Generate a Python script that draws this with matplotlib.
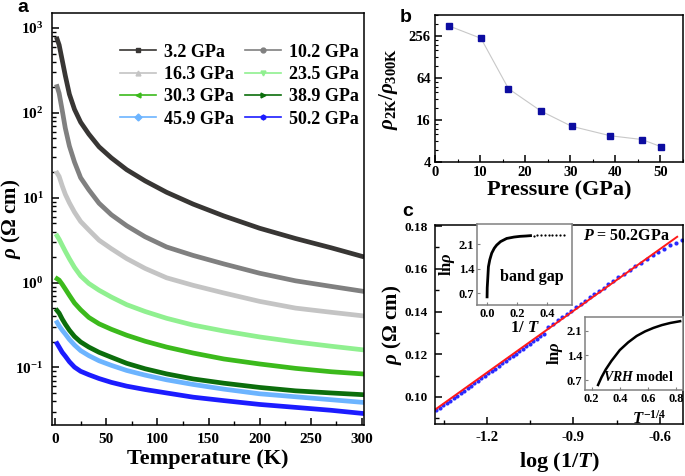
import matplotlib
matplotlib.use('Agg')
import matplotlib.pyplot as plt
from matplotlib import ticker
from matplotlib.lines import Line2D

plt.rcParams['font.family']='Liberation Serif'
plt.rcParams['font.weight']='bold'
plt.rcParams['axes.labelweight']='bold'
plt.rcParams['mathtext.fontset']='custom'
plt.rcParams['mathtext.rm']='Liberation Serif:bold'
plt.rcParams['mathtext.it']='Liberation Serif:italic:bold'
plt.rcParams['mathtext.bf']='Liberation Serif:bold'
plt.rcParams['axes.unicode_minus']=False
plt.rcParams['xtick.direction']='in'
plt.rcParams['ytick.direction']='in'
plt.rcParams['axes.linewidth']=1.1

# a: resistivity vs temperature
temp=[2,4,7,10,14,19,25,33,43,55,70,88,109,135,165,200,235,270,300]
labels=['3.2 GPa','10.2 GPa','16.3 GPa','23.5 GPa','30.3 GPa','38.9 GPa','45.9 GPa','50.2 GPa']
rho_3p2=[741,631,417,275,166,110,77.6,56.2,39.8,29.5,21.4,15.8,11.6,8.41,6.10,4.37,3.31,2.57,2.04]
rho_10p2=[204,170,107,66.1,40.7,26.3,17.2,12.4,8.61,6.31,4.68,3.47,2.63,2.09,1.66,1.29,1.05,0.902,0.794]
rho_16p3=[19.5,17.8,13.8,11.0,8.71,6.76,5.25,4.17,3.16,2.51,1.92,1.47,1.14,0.929,0.755,0.601,0.501,0.447,0.407]
rho_23p5=[3.55,3.24,2.75,2.34,1.91,1.51,1.20,0.977,0.813,0.676,0.550,0.457,0.380,0.316,0.269,0.229,0.200,0.178,0.162]
rho_30p3=[1.11,1.07,0.955,0.841,0.708,0.575,0.479,0.389,0.327,0.282,0.240,0.204,0.174,0.148,0.126,0.110,0.0977,0.0891,0.0841]
rho_38p9=[0.468,0.437,0.372,0.324,0.275,0.232,0.200,0.174,0.151,0.132,0.112,0.0966,0.0841,0.0733,0.0653,0.0582,0.0531,0.0501,0.0479]
rho_45p9=[0.339,0.309,0.275,0.248,0.214,0.184,0.158,0.138,0.120,0.106,0.0923,0.0813,0.0716,0.0631,0.0556,0.0490,0.0452,0.0417,0.0389]
rho_50p2=[0.191,0.174,0.151,0.136,0.117,0.101,0.0902,0.0822,0.0741,0.0668,0.0603,0.0550,0.0501,0.0447,0.0407,0.0367,0.0339,0.0313,0.0288]
curves=[rho_3p2,rho_10p2,rho_16p3,rho_23p5,rho_30p3,rho_38p9,rho_45p9,rho_50p2]
colors=['#383634','#808080','#c4c4c4','#90f090','#3cba1c','#0c6e0c','#6cb4ff','#1c1cff']
markers=['s','o','^','v','<','>','D','h']

# b: rho(2K)/rho(300K) vs pressure
pressure=[3.2,10.2,16.3,23.5,30.3,38.9,45.9,50.2]
ratio=[355,237,45,21.5,13,9.5,8.4,6.6]

# c: rho vs log(1/T) at 50.2 GPa
logT_inv=[-1.375,-1.363,-1.351,-1.339,-1.327,-1.315,-1.303,-1.291,-1.279,-1.267,-1.255,-1.243,
          -1.231,-1.219,-1.207,-1.195,-1.183,-1.171,-1.159,-1.147,-1.135,-1.123,-1.111,-1.099,
          -1.087,-1.075,-1.063,-1.051,-1.039,-1.027,-1.015,-1.003,
          -0.987,-0.971,-0.955,-0.939,-0.923,-0.907,-0.891,-0.875,-0.859,-0.843,-0.827,-0.811,
          -0.795,-0.779,-0.763,
          -0.745,-0.725,-0.705,-0.685,-0.665,-0.645,-0.625,-0.605,-0.585,-0.565,-0.545,-0.525]
rho_c=[0.0937,0.0948,0.0960,0.0972,0.0983,0.0995,0.1006,0.1018,0.1029,0.1041,0.1053,0.1064,
       0.1076,0.1087,0.1099,0.1110,0.1122,0.1133,0.1145,0.1157,0.1168,0.1180,0.1191,0.1203,
       0.1214,0.1226,0.1238,0.1249,0.1261,0.1272,0.1284,0.1295,
       0.1327,0.1342,0.1358,0.1373,0.1389,0.1404,0.1419,0.1435,0.1450,0.1466,0.1481,0.1497,
       0.1512,0.1527,0.1543,
       0.1560,0.1577,0.1595,0.1612,0.1629,0.1647,0.1664,0.1680,0.1695,0.1710,0.1723,0.1734]
fit_x=[-1.38,-0.54]
fit_y=[0.094,0.175]

# c insets
inv_T=[0.0,0.001,0.004,0.009,0.018,0.031,0.048,0.064,0.09,0.131,0.18,0.22,0.26,0.29]
ln_rho_gap=[0.59,0.85,1.07,1.45,1.65,1.84,1.98,2.07,2.17,2.26,2.30,2.32,2.33,2.34]
inv_T_tail=[0.31,0.335,0.36,0.385,0.41,0.435,0.46,0.485,0.51]
ln_rho_tail=[2.34,2.345,2.35,2.35,2.355,2.355,2.36,2.36,2.36]
T_quarter=[0.245,0.27,0.30,0.34,0.40,0.46,0.52,0.58,0.64,0.70,0.76,0.83]
ln_rho_vrh=[0.56,0.78,1.0,1.24,1.55,1.77,1.95,2.08,2.18,2.26,2.32,2.37]

fig=plt.figure(figsize=(6.85,4.76),dpi=100)

# ---- a ----
ax=fig.add_axes([0.0759,0.1071,0.4555,0.8655])
for rho,c in zip(curves,colors):
    ax.plot(temp,rho,color=c,lw=3.4)
ax.set_yscale('log')
ax.set_ylim(0.021,1500)
ax.set_xlim(-3,302)
ax.xaxis.set_major_locator(ticker.MultipleLocator(50))
ax.xaxis.set_minor_locator(ticker.MultipleLocator(25))
ax.yaxis.set_minor_formatter(ticker.NullFormatter())
ax.tick_params(which='major',length=5,width=1.1,labelsize=11,pad=6)
ax.tick_params(which='minor',length=3,width=1)
ax.set_xlabel('Temperature (K)',fontsize=16,labelpad=2)
ax.set_ylabel(r'$\rho$ (Ω cm)',fontsize=15)
ax.yaxis.set_label_coords(-0.092,0.5)
handles=[Line2D([],[],color=c,lw=1.2,marker=m,ms=3.5) for c,m in zip(colors,markers)]
order=[0,2,4,6,1,3,5,7]
ax.legend([handles[i] for i in order],[labels[i] for i in order],ncol=2,loc='upper left',
          bbox_to_anchor=(0.218,0.926),frameon=False,fontsize=13,borderpad=0,borderaxespad=0,
          handlelength=2.0,handletextpad=0.45,labelspacing=0.3,columnspacing=0.6)

# ---- b ----
axb=fig.add_axes([0.635,0.6597,0.362,0.3088])
axb.plot(pressure,ratio,color='#c8c8c8',lw=0.8,marker='s',ms=5,mfc='#0c0ca0',mec='#0c0ca0')
axb.set_yscale('log',base=2)
axb.set_ylim(4,512)
axb.set_xlim(0,55)
axb.yaxis.set_major_locator(ticker.FixedLocator([4,16,64,256]))
axb.yaxis.set_major_formatter(ticker.FormatStrFormatter('%d'))
axb.yaxis.set_minor_locator(ticker.LogLocator(base=4,subs=[1.5,2,2.5,3,3.5]))
axb.yaxis.set_minor_formatter(ticker.NullFormatter())
axb.xaxis.set_major_locator(ticker.MultipleLocator(10))
axb.xaxis.set_minor_locator(ticker.MultipleLocator(5))
axb.tick_params(which='major',length=5,width=1.1,labelsize=10.5,pad=3)
axb.tick_params(which='minor',length=2.5,width=0.8)
axb.set_xlabel('Pressure (GPa)',fontsize=16,labelpad=1)
axb.set_ylabel(r'$\rho_{\mathrm{2K}}/\rho_{\mathrm{300K}}$',fontsize=15)
axb.yaxis.set_label_coords(-0.141,0.5)

# ---- c ----
axc=fig.add_axes([0.635,0.1092,0.362,0.418])
axc.plot(logT_inv,rho_c,'o',ms=3,mew=0,color='#2a2aff')
axc.plot(fit_x,fit_y,color='#ff1a1a',lw=1.4)
axc.set_xlim(-1.38,-0.52)
axc.set_ylim(0.0873,0.1805)
axc.xaxis.set_major_locator(ticker.MultipleLocator(0.3))
axc.xaxis.set_minor_locator(ticker.MultipleLocator(0.15))
axc.xaxis.set_major_formatter(ticker.FormatStrFormatter('%.1f'))
axc.yaxis.set_major_locator(ticker.MultipleLocator(0.02))
axc.yaxis.set_minor_locator(ticker.MultipleLocator(0.01))
axc.yaxis.set_major_formatter(ticker.FormatStrFormatter('%.2f'))
axc.tick_params(which='major',length=5,width=1.1,labelsize=9.5,pad=5)
axc.tick_params(axis='x',labelsize=10.5)
axc.tick_params(which='minor',length=3,width=1)
axc.set_xlabel(r'log ($\mathit{1/T}$)',fontsize=16,labelpad=4)
axc.set_ylabel(r'$\rho$ (Ω cm)',fontsize=15)
axc.yaxis.set_label_coords(-0.123,0.5)
axc.text(0.948,0.945,r'$P$ = 50.2GPa',transform=axc.transAxes,ha='right',va='center',fontsize=11.5)

# inset: band gap
ins1=fig.add_axes([0.6964,0.3592,0.1387,0.170])
ins1.plot(inv_T,ln_rho_gap,color='black',lw=2)
ins1.plot(inv_T_tail,ln_rho_tail,'o',ms=1.6,mew=0,color='black')
ins1.set_xlim(-0.067,0.567)
ins1.set_ylim(0.357,2.67)
ins1.set_xticks([0.0,0.2,0.4])
ins1.set_yticks([0.7,1.4,2.1])
ins1.xaxis.set_major_formatter(ticker.FormatStrFormatter('%.1f'))
ins1.tick_params(length=2.5,width=0.8,labelsize=9,pad=2,color='#808080')
for s in ins1.spines.values():
    s.set_color('#808080')
ins1.set_xlabel(r'$1/\ T$',fontsize=12,labelpad=0)
ins1.set_ylabel(r'ln$\rho$',fontsize=12,labelpad=1)
ins1.text(0.30,1.15,'band gap',fontsize=11.5,ha='center',va='center')

# inset: VRH model
ins2=fig.add_axes([0.854,0.1807,0.143,0.1534])
ins2.plot(T_quarter,ln_rho_vrh,color='black',lw=1.8)
ins2.set_xlim(0.152,0.850)
ins2.set_ylim(0.417,2.49)
ins2.set_xticks([0.2,0.4,0.6,0.8])
ins2.set_yticks([0.7,1.4,2.1])
ins2.tick_params(length=2.5,width=0.8,labelsize=9,pad=2,color='#808080')
for s in ins2.spines.values():
    s.set_color('#808080')
ins2.set_xlabel(r'$T^{-1/4}$',fontsize=12)
ins2.xaxis.set_label_coords(0.66,-0.27)
ins2.set_ylabel(r'ln$\rho$',fontsize=12,labelpad=1)
ins2.text(0.53,0.78,r'$VRH$ model',fontsize=10,ha='center',va='center')

fig.text(23/685,1-8/476,'a',family='Liberation Sans',weight='bold',fontsize=14,ha='center',va='center')
fig.text(406/685,1-17/476,'b',family='Liberation Sans',weight='bold',fontsize=14,ha='center',va='center')
fig.text(408/685,1-211/476,'c',family='Liberation Sans',weight='bold',fontsize=14,ha='center',va='center')

fig.savefig('out.png',dpi=100)
